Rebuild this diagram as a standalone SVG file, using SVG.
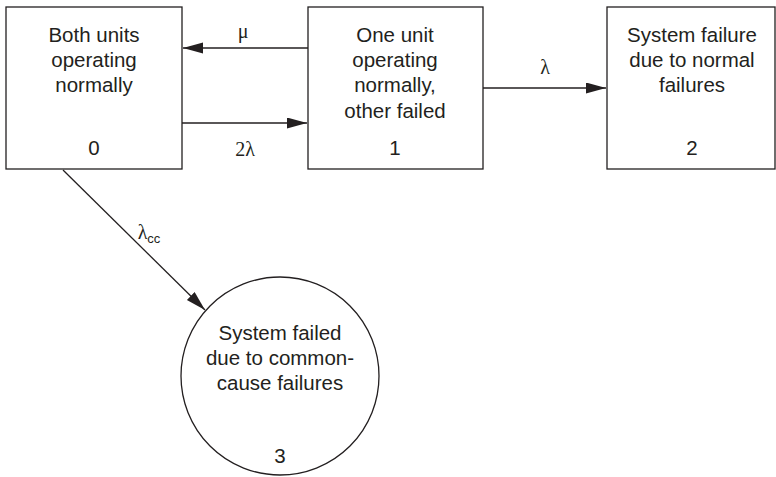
<svg xmlns="http://www.w3.org/2000/svg" width="776" height="477" viewBox="0 0 776 477">
<style>
.box{fill:#fff;stroke:#231f20;stroke-width:1.3}
.t{font-family:"Liberation Sans",Arial,sans-serif;font-size:20.5px;fill:#231f20;text-anchor:middle}
.e{stroke:#231f20;stroke-width:1.3;fill:none;marker-end:url(#ah)}
.g{font-family:"Liberation Serif","DejaVu Serif",serif;font-size:20px;fill:#231f20;text-anchor:middle}
</style>
<defs>
<marker id="ah" markerUnits="userSpaceOnUse" markerWidth="22" markerHeight="12" refX="20" refY="5.5" orient="auto">
<path d="M0,0 L20,5.5 L0,11 Z" fill="#231f20"/>
</marker>
</defs>
<rect width="776" height="477" fill="#fff"/>
<g id="n0">
<rect class="box" x="6" y="7" width="176" height="162"/>
<text class="t" x="94" y="42">Both units</text>
<text class="t" x="94" y="67">operating</text>
<text class="t" x="94" y="92">normally</text>
<text class="t" x="94" y="155">0</text>
</g>
<g id="n1">
<rect class="box" x="308" y="7" width="175" height="162"/>
<text class="t" x="395" y="42">One unit</text>
<text class="t" x="395" y="67">operating</text>
<text class="t" x="395" y="92">normally,</text>
<text class="t" x="395" y="118">other failed</text>
<text class="t" x="395" y="155">1</text>
</g>
<g id="n2">
<rect class="box" x="607" y="7" width="168" height="162"/>
<text class="t" x="692" y="42">System failure</text>
<text class="t" x="692" y="67">due to normal</text>
<text class="t" x="692" y="92">failures</text>
<text class="t" x="692" y="155">2</text>
</g>
<g id="n3">
<circle class="box" cx="280" cy="376" r="99"/>
<text class="t" x="280" y="340">System failed</text>
<text class="t" x="280" y="365">due to common-</text>
<text class="t" x="280" y="390">cause failures</text>
<text class="t" x="280" y="463">3</text>
</g>
<g id="connectors">
<line class="e" x1="308" y1="48" x2="183" y2="48"/>
<line class="e" x1="182" y1="123" x2="307" y2="123"/>
<line class="e" x1="483" y1="88" x2="606" y2="88"/>
<line class="e" x1="63" y1="170" x2="205" y2="310"/>
<text class="g" x="243" y="38">μ</text>
<text class="g" x="245" y="156">2λ</text>
<text class="g" x="545" y="74">λ</text>
<text class="g" x="149" y="239">λ<tspan font-family="Liberation Sans,Arial,sans-serif" font-size="13" dy="4">cc</tspan></text>
</g>
</svg>
